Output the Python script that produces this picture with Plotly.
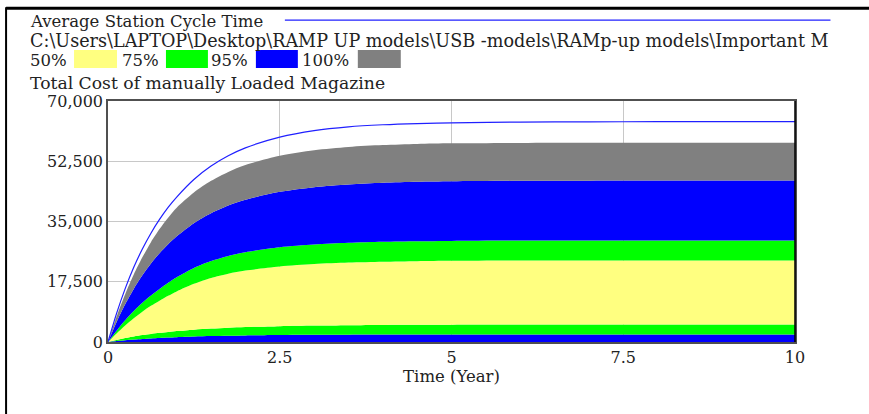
import plotly.graph_objects as go

# ---- data ----
time_year = [0, 0.125, 0.25, 0.375, 0.5, 0.625, 0.75, 0.875, 1, 1.25, 1.5, 1.75, 2, 2.5, 3, 3.5, 4, 4.5, 5, 6, 7, 8, 9, 10]

# sensitivity band boundaries, bottom to top (Total Cost of manually Loaded Magazine)
band_95_low_top = [0, 260, 490, 690, 870, 1030, 1170, 1290, 1400, 1580, 1720, 1830, 1910, 2020, 2080, 2120, 2145, 2158, 2165, 2168, 2170, 2170, 2170, 2170]
band_75_low_top = [0, 600, 1130, 1600, 2000, 2350, 2660, 2930, 3170, 3580, 3900, 4150, 4340, 4600, 4760, 4870, 4950, 5000, 5030, 5055, 5065, 5070, 5070, 5070]
band_50_top = [0, 2500, 4800, 6900, 8800, 10500, 12000, 13400, 14700, 16900, 18600, 19850, 20750, 21950, 22650, 23080, 23330, 23480, 23570, 23660, 23690, 23700, 23700, 23700]
band_75_high_top = [0, 3300, 6300, 9000, 11400, 13500, 15400, 17200, 18800, 21500, 23500, 25000, 26100, 27500, 28300, 28800, 29100, 29270, 29370, 29460, 29490, 29500, 29500, 29500]
band_95_high_top = [0, 5840, 10970, 15430, 19370, 22790, 25800, 28420, 30720, 34520, 37380, 39630, 41320, 43620, 44980, 45770, 46240, 46520, 46670, 46820, 46870, 46890, 46900, 46900]
band_100_top = [0, 7400, 13900, 19600, 24600, 29000, 32800, 36100, 39000, 43400, 46800, 49400, 51400, 54100, 55700, 56650, 57200, 57520, 57700, 57830, 57880, 57900, 57900, 57900]

# "Average Station Cycle Time" run
avg_cycle_time_run = [0, 8300, 15500, 21700, 27000, 31600, 35600, 39100, 42100, 47200, 51100, 54100, 56400, 59500, 61400, 62500, 63100, 63450, 63650, 63880, 63960, 63990, 64000, 64000]

band_labels = ["50%", "75%", "95%", "100%"]
band_colors = {"50%": "#FFFF80", "75%": "#00FF00", "95%": "#0000FF", "100%": "#808080"}

y_ticks = [0, 17500, 35000, 52500, 70000]
y_tick_text = ["0", "17,500", "35,000", "52,500", "70,000"]
x_ticks = [0, 2.5, 5, 7.5, 10]
x_tick_text = ["0", "2.5", "5", "7.5", "10"]

# ---- figure ----
W, H = 869, 414
L, R, T, B = 108, 795.5, 101, 342.5
FONT = "DejaVu Serif, Liberation Serif, serif"
TXT = "#222222"

def px(x):
    return (x - L) / (R - L)

def py(y):
    return (B - y) / (B - T)

fig = go.Figure()

stack = [
    (band_95_low_top, band_colors["95%"], "tozeroy"),
    (band_75_low_top, band_colors["75%"], "tonexty"),
    (band_50_top, band_colors["50%"], "tonexty"),
    (band_75_high_top, band_colors["75%"], "tonexty"),
    (band_95_high_top, band_colors["95%"], "tonexty"),
    (band_100_top, band_colors["100%"], "tonexty"),
]
for vals, col, fill in stack:
    fig.add_trace(go.Scatter(
        x=time_year, y=vals, mode="lines", fill=fill, fillcolor=col,
        line=dict(width=0, color=col, shape="spline", smoothing=0.8),
        showlegend=False, hoverinfo="skip"))

fig.add_trace(go.Scatter(
    x=time_year, y=avg_cycle_time_run, mode="lines",
    line=dict(width=1.2, color="#2020FF", shape="spline", smoothing=0.8),
    showlegend=False))

fig.update_layout(
    width=W, height=H,
    margin=dict(l=L, r=W - R, t=T, b=H - B, pad=0),
    paper_bgcolor="white", plot_bgcolor="white",
    font=dict(family=FONT, size=16, color=TXT),
    xaxis=dict(range=[0, 10], tickvals=x_ticks, ticktext=x_tick_text,
               showgrid=True, gridcolor="#C8C8C8", gridwidth=1,
               zeroline=False, showline=True, linecolor="#505050", linewidth=1.5,
               mirror=True, ticks="", ticklen=0,
               tickfont=dict(family=FONT, size=16, color=TXT),
               title=dict(text="Time (Year)", font=dict(family=FONT, size=16.5, color=TXT), standoff=3),
               layer="above traces"),
    yaxis=dict(range=[0, 70000], tickvals=y_ticks, ticktext=y_tick_text,
               showgrid=True, gridcolor="#C8C8C8", gridwidth=1,
               zeroline=False, showline=True, linecolor="#505050", linewidth=1.5,
               mirror=True, ticks="", ticklen=0,
               tickfont=dict(family=FONT, size=16, color=TXT),
               layer="above traces"),
)
# right border darker
fig.add_shape(type="line", xref="paper", yref="paper", x0=1, x1=1, y0=0, y1=1,
              line=dict(color="black", width=1.5))

# header texts
def text(x, y, s, size=17):
    fig.add_annotation(xref="paper", yref="paper", x=px(x), y=py(y), text=s,
                       showarrow=False, xanchor="left", yanchor="middle",
                       font=dict(family=FONT, size=size, color=TXT))

text(28, 21, "Average Station Cycle Time", 16.5)
fig.add_shape(type="line", xref="paper", yref="paper", x0=px(285), x1=px(831),
              y0=py(20), y1=py(20), line=dict(color="#2020FF", width=1.2))
text(28, 41, "C:\\Users\\LAPTOP\\Desktop\\RAMP UP models\\USB -models\\RAMp-up models\\Important M", 17.6)

legend_text_x = [28, 120, 209, 300]
legend_box_x = [(74, 117), (166, 208), (256, 298), (358, 401)]
for lab, tx, (bx0, bx1) in zip(band_labels, legend_text_x, legend_box_x):
    text(tx, 60, lab, 16.5)
    fig.add_shape(type="rect", xref="paper", yref="paper", x0=px(bx0), x1=px(bx1),
                  y0=py(68), y1=py(50), fillcolor=band_colors[lab], line=dict(width=0))

text(28, 83, "Total Cost of manually Loaded Magazine", 17.2)

# outer frame
fig.add_shape(type="line", xref="paper", yref="paper", x0=px(6), x1=px(875),
              y0=py(8), y1=py(8), line=dict(color="black", width=3))
fig.add_shape(type="line", xref="paper", yref="paper", x0=px(6), x1=px(6),
              y0=py(7), y1=py(420), line=dict(color="black", width=2))

fig.write_html("out.html", config={"displayModeBar": False},
               post_script="document.body.style.margin='0';")
